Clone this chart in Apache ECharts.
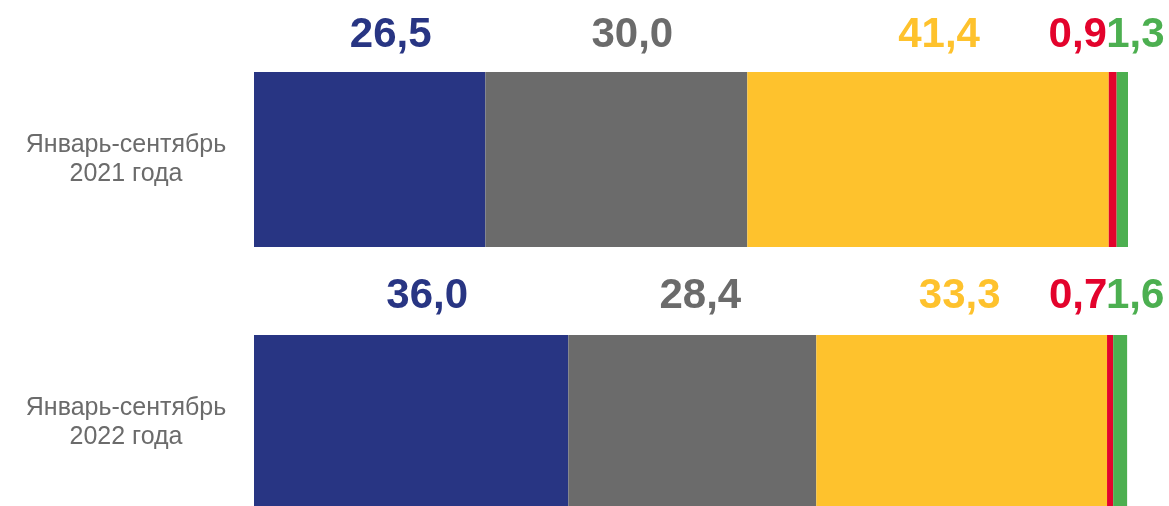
<!DOCTYPE html>
<html>
<head>
<meta charset="utf-8">
<script src="https://cdn.jsdelivr.net/npm/echarts@6/dist/echarts.min.js"></script>
<style>
  html, body { margin: 0; padding: 0; background: #ffffff; }
  #chart { width: 1169px; height: 506px; }
</style>
</head>
<body>
<div id="chart"></div>
<script>
// Data
const categories = ['Январь-сентябрь\n2021 года', 'Январь-сентябрь\n2022 года'];
const navyValues = [26.5, 36.0];
const greyValues = [30.0, 28.4];
const yellowValues = [41.4, 33.3];
const redValues = [0.9, 0.7];
const greenValues = [1.3, 1.6];

// Label nudges (pixels) so that the numbers sit like in the original
const labelShift = {
  navy: [[21, 0], [16, -2]],
  grey: [[16, 0], [8, -2]],
  yellow: [[11, 0], [-2, -2]],
  red: [[-35, 0], [-32, -2]],
  green: [[13, 0], [15, -2]]
};

const fontFamily = "'Liberation Sans', Arial, sans-serif";
const chart = echarts.init(document.getElementById('chart'), null, { renderer: 'canvas' });

function makeSeries(name, values, color, shifts) {
  return {
    name: name,
    type: 'bar',
    stack: 'total',
    barWidth: 175,
    itemStyle: { color: color },
    label: {
      show: true,
      position: 'top',
      distance: 16,
      color: color,
      fontFamily: fontFamily,
      fontWeight: 'bold',
      fontSize: 42,
      formatter: p => p.value.toFixed(1).replace('.', ',')
    },
    data: values.map((v, i) => ({ value: v, label: { offset: shifts[i] } }))
  };
}

const option = {
  animation: false,
  backgroundColor: '#ffffff',
  grid: {
    left: 254, right: 41, top: 28, height: 526,
    containLabel: false,
    outerBoundsMode: 'none'
  },
  xAxis: {
    type: 'value',
    min: 0,
    max: 100.1,
    show: false
  },
  yAxis: {
    type: 'category',
    inverse: true,
    data: categories,
    axisLine: { show: false },
    axisTick: { show: false },
    axisLabel: {
      margin: 128,
      align: 'center',
      color: '#6b6b6b',
      fontFamily: fontFamily,
      fontSize: 25,
      lineHeight: 29
    }
  },
  series: [
    makeSeries('Серия 1', navyValues, '#283583', labelShift.navy),
    makeSeries('Серия 2', greyValues, '#6b6b6b', labelShift.grey),
    makeSeries('Серия 3', yellowValues, '#fec22d', labelShift.yellow),
    makeSeries('Серия 4', redValues, '#e3032c', labelShift.red),
    makeSeries('Серия 5', greenValues, '#4caf50', labelShift.green)
  ]
};

chart.setOption(option);
</script>
</body>
</html>
